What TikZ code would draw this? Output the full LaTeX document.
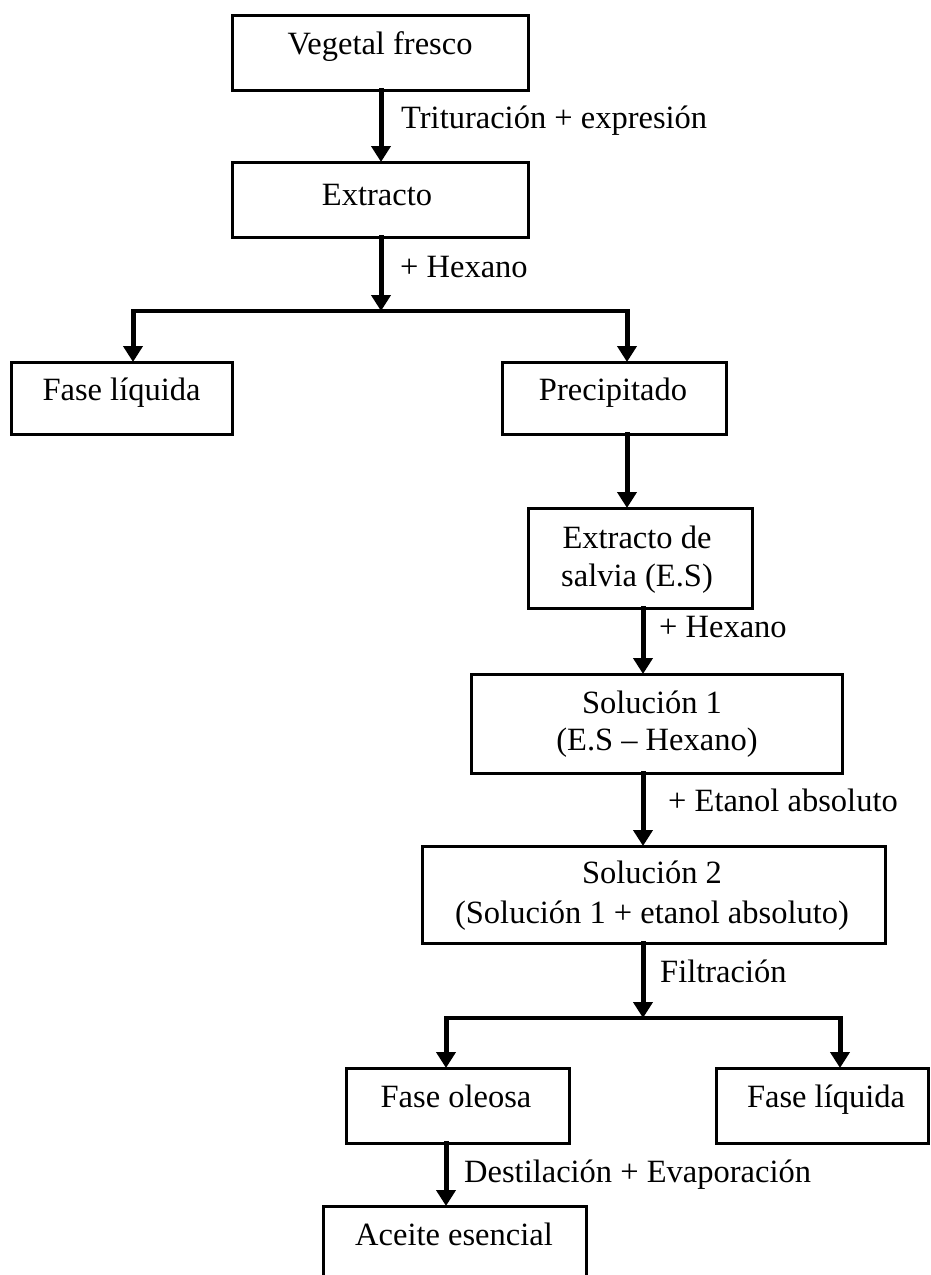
\documentclass[tikz,border=0pt]{standalone}
\usepackage{fontspec}
\setmainfont{Liberation Serif}
\usetikzlibrary{arrows.meta}
\begin{document}
\begin{tikzpicture}[x=1pt,y=-1pt,
  box/.style={draw, line width=3pt, rectangle, inner sep=0pt, outer sep=0pt},
  txt/.style={anchor=base, inner sep=0pt, font=\fontsize{32.5}{39}\selectfont},
  lbl/.style={anchor=base west, inner sep=0pt, font=\fontsize{32.5}{39}\selectfont},
  arr/.style={line width=5pt, line cap=rect, -{Triangle[width=19pt,length=16pt]}},
  bar/.style={line width=3.6pt, line cap=rect}]
\useasboundingbox (0,0) rectangle (930,1275);
\clip (0,0) rectangle (930,1275);
% boxes
\node[box, minimum width=296pt, minimum height=75pt] (veg) at (380,52.5) {};
\node[box, minimum width=296pt, minimum height=75pt] (ext) at (380,199.5) {};
\node[box, minimum width=221pt, minimum height=72pt] (fl1) at (121.5,398) {};
\node[box, minimum width=224pt, minimum height=72pt] (pre) at (614,398) {};
\node[box, minimum width=224pt, minimum height=100pt] (es) at (640,558) {};
\node[box, minimum width=371pt, minimum height=99pt] (s1) at (656.5,723.5) {};
\node[box, minimum width=463pt, minimum height=97pt] (s2) at (653.5,894.5) {};
\node[box, minimum width=223pt, minimum height=75pt] (fo) at (457.5,1105.5) {};
\node[box, minimum width=212pt, minimum height=75pt] (fl2) at (822,1105.5) {};
\node[box, minimum width=263pt, minimum height=100pt] (ace) at (454.5,1256) {};
% box texts
\node[txt] (tveg) at (380,54) {Vegetal fresco};
\node[txt] (text) at (377,205) {Extracto};
\node[txt] (tfl1) at (121.5,400) {Fase líquida};
\node[txt] (tpre) at (613,400) {Precipitado};
\node[txt] (tes1) at (637,548) {Extracto de};
\node[txt] (tes2) at (637,586) {salvia (E.S)};
\node[txt] (ts11) at (652,713) {Solución 1};
\node[txt] (ts12) at (657,750) {(E.S – Hexano)};
\node[txt] (ts21) at (652,883) {Solución 2};
\node[txt] (ts22) at (652,923) {(Solución 1 + etanol absoluto)};
\node[txt] (tfo) at (456,1107) {Fase oleosa};
\node[txt] (tfl2) at (826,1107) {Fase líquida};
\node[txt] (tace) at (454,1245) {Aceite esencial};
% connector labels
\node[lbl] (l1) at (401,128) {Trituración + expresión};
\node[lbl] (l2) at (400,277) {+ Hexano};
\node[lbl] (l3) at (659,637) {+ Hexano};
\node[lbl] (l4) at (668,811) {+ Etanol absoluto};
\node[lbl] (l5) at (660,982) {Filtración};
\node[lbl] (l6) at (464,1182) {Destilación + Evaporación};
% junction coordinates
\coordinate (j1) at (381,311);
\coordinate (jL) at (133,311);
\coordinate (jR) at (627,311);
\coordinate (j2) at (643,1018);
\coordinate (jL2) at (446,1018);
\coordinate (jR2) at (840,1018);
% connectors
\draw[arr] (veg.south -| j1) -- (ext.north -| j1);
\draw[arr] (ext.south -| j1) -- (j1);
\draw[bar] (jL) -- (jR);
\draw[arr] (jL) -- (fl1.north -| jL);
\draw[arr] (jR) -- (pre.north -| jR);
\draw[arr] (pre.south -| jR) -- (es.north -| jR);
\draw[arr] (es.south -| j2) -- (s1.north -| j2);
\draw[arr] (s1.south -| j2) -- (s2.north -| j2);
\draw[arr] (s2.south -| j2) -- (j2);
\draw[bar] (jL2) -- (jR2);
\draw[arr] (jL2) -- (fo.north -| jL2);
\draw[arr] (jR2) -- (fl2.north -| jR2);
\draw[arr] (fo.south -| jL2) -- (ace.north -| jL2);
\end{tikzpicture}
\end{document}
